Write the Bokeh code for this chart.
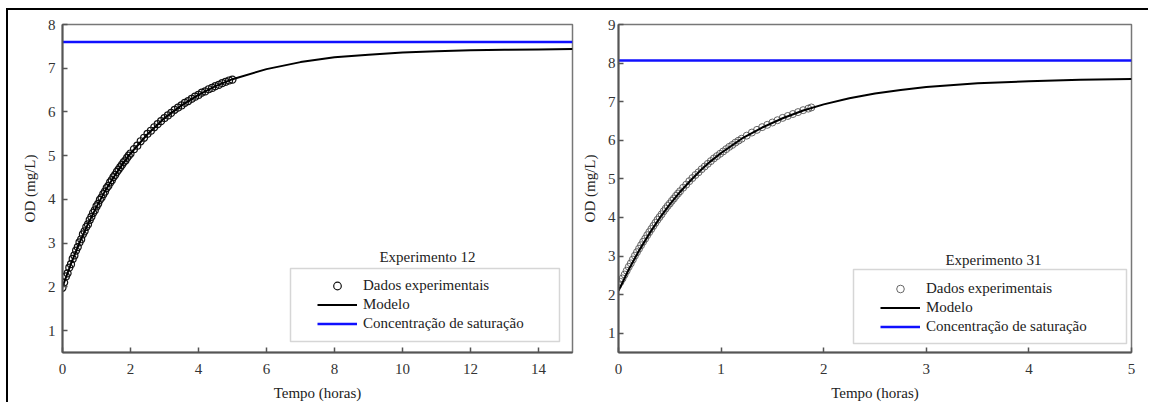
from bokeh.plotting import figure
from bokeh.layouts import row
from bokeh.models import (Range1d, FixedTicker, Legend, LegendItem,
                          BoxAnnotation, Label)
from bokeh.embed import file_html
from bokeh.resources import INLINE

FONT = "'Liberation Serif', serif"

# ---------------- Experimento 12 ----------------
exp12_title = "Experimento 12"
exp12_data_t = [0.00, 0.05, 0.10, 0.15, 0.20, 0.25, 0.30, 0.35, 0.40, 0.45,
                0.50, 0.55, 0.60, 0.65, 0.70, 0.75, 0.80, 0.85, 0.90, 0.95,
                1.00, 1.05, 1.10, 1.15, 1.20, 1.25, 1.30, 1.35, 1.40, 1.45,
                1.50, 1.55, 1.60, 1.65, 1.70, 1.75, 1.80, 1.85, 1.90, 1.95,
                2.00, 2.10, 2.20, 2.30, 2.40, 2.50, 2.60, 2.70, 2.80, 2.90,
                3.00, 3.10, 3.20, 3.30, 3.40, 3.50, 3.60, 3.70, 3.80, 3.90,
                4.00, 4.10, 4.20, 4.30, 4.40, 4.50, 4.60, 4.70, 4.80, 4.90, 5.00]
exp12_data_od = [1.98, 2.10, 2.24, 2.31, 2.44, 2.52, 2.64, 2.72, 2.83, 2.91,
                 3.02, 3.09, 3.20, 3.27, 3.37, 3.43, 3.53, 3.60, 3.69, 3.75,
                 3.84, 3.90, 3.99, 4.04, 4.12, 4.18, 4.26, 4.31, 4.39, 4.44,
                 4.51, 4.56, 4.63, 4.68, 4.74, 4.79, 4.85, 4.89, 4.95, 5.00,
                 5.05, 5.15, 5.23, 5.33, 5.41, 5.50, 5.57, 5.65, 5.72, 5.79,
                 5.86, 5.92, 5.98, 6.05, 6.10, 6.15, 6.21, 6.25, 6.30, 6.35,
                 6.39, 6.44, 6.47, 6.52, 6.55, 6.59, 6.62, 6.66, 6.69, 6.72, 6.74]
exp12_model_t = [0, 0.25, 0.5, 0.75, 1, 1.25, 1.5, 1.75, 2, 2.5, 3, 3.5, 4,
                 4.5, 5, 6, 7, 8, 9, 10, 11, 12, 13, 14, 15]
exp12_model_od = [2.00, 2.53, 3.01, 3.44, 3.83, 4.19, 4.50, 4.79, 5.05, 5.49,
                  5.86, 6.15, 6.39, 6.59, 6.75, 6.98, 7.14, 7.25, 7.31, 7.36,
                  7.39, 7.41, 7.42, 7.43, 7.44]
exp12_sat_t = [0, 15]
exp12_sat_od = [7.6, 7.6]
exp12_xticks = [0, 2, 4, 6, 8, 10, 12, 14]
exp12_yticks = [1, 2, 3, 4, 5, 6, 7, 8]

# ---------------- Experimento 31 ----------------
exp31_title = "Experimento 31"
exp31_data_t = [0.00, 0.02, 0.04, 0.06, 0.08, 0.10, 0.12, 0.14, 0.16, 0.18,
                0.20, 0.22, 0.24, 0.26, 0.28, 0.30, 0.32, 0.34, 0.36, 0.38,
                0.40, 0.42, 0.44, 0.46, 0.48, 0.50, 0.52, 0.54, 0.56, 0.58,
                0.60, 0.63, 0.66, 0.69, 0.72, 0.75, 0.78, 0.81, 0.84, 0.87,
                0.90, 0.93, 0.96, 0.99, 1.02, 1.05, 1.08, 1.11, 1.14, 1.17,
                1.20, 1.25, 1.30, 1.35, 1.40, 1.45, 1.50, 1.55, 1.60, 1.65,
                1.70, 1.75, 1.80, 1.85, 1.88]
exp31_data_od = [2.25, 2.33, 2.42, 2.52, 2.62, 2.72, 2.81, 2.91, 3.01, 3.10,
                 3.19, 3.28, 3.37, 3.45, 3.54, 3.62, 3.70, 3.78, 3.86, 3.94,
                 4.01, 4.08, 4.16, 4.23, 4.30, 4.36, 4.43, 4.49, 4.56, 4.62,
                 4.68, 4.77, 4.85, 4.94, 5.02, 5.10, 5.17, 5.25, 5.32, 5.39,
                 5.46, 5.53, 5.59, 5.65, 5.71, 5.77, 5.83, 5.88, 5.94, 5.99,
                 6.04, 6.12, 6.20, 6.27, 6.34, 6.40, 6.46, 6.52, 6.58, 6.63,
                 6.68, 6.73, 6.78, 6.82, 6.85]
exp31_model_t = [0, 0.1, 0.2, 0.3, 0.4, 0.5, 0.6, 0.7, 0.8, 0.9, 1.0, 1.2, 1.4,
                 1.6, 1.8, 2.0, 2.25, 2.5, 2.75, 3.0, 3.5, 4.0, 4.5, 5.0]
exp31_model_od = [2.10, 2.65, 3.14, 3.58, 3.98, 4.34, 4.66, 4.95, 5.22, 5.46,
                  5.67, 6.04, 6.33, 6.57, 6.77, 6.93, 7.09, 7.21, 7.30, 7.38,
                  7.48, 7.53, 7.57, 7.59]
exp31_sat_t = [0, 5]
exp31_sat_od = [8.07, 8.07]
exp31_xticks = [0, 1, 2, 3, 4, 5]
exp31_yticks = [1, 2, 3, 4, 5, 6, 7, 8, 9]

labels = ["Dados experimentais", "Modelo", "Concentração de saturação"]
x_label = "Tempo (horas)"
y_label = "OD (mg/L)"


def panel(width, left, right, xr, yr, xticks, yticks, data_t, data_od,
          model_t, model_od, sat_t, sat_od, title, circ_color, circ_lw,
          ylab_standoff, leg_loc, box, title_pos):
    p = figure(width=width, height=394, output_backend="svg",
               toolbar_location=None, x_range=Range1d(*xr),
               y_range=Range1d(*yr), min_border_left=left,
               min_border_right=right, min_border_top=14,
               min_border_bottom=52)
    p.xgrid.visible = False
    p.ygrid.visible = False
    p.background_fill_color = "white"
    p.border_fill_color = "white"
    p.outline_line_color = "#777777"
    p.outline_line_width = 1.5

    r_data = p.scatter(data_t, data_od, marker="circle", size=7,
                       fill_color=None, line_color=circ_color,
                       line_width=circ_lw)
    r_model = p.line(model_t, model_od, line_color="black", line_width=2)
    r_sat = p.line(sat_t, sat_od, line_color="#1010ff", line_width=2.5)

    p.xaxis.ticker = FixedTicker(ticks=xticks)
    p.yaxis.ticker = FixedTicker(ticks=yticks)
    p.xaxis.axis_label = x_label
    p.yaxis.axis_label = y_label
    for ax in (p.xaxis[0], p.yaxis[0]):
        ax.axis_line_color = "#555555"
        ax.axis_line_width = 2
        ax.major_tick_line_color = "#555555"
        ax.major_tick_line_width = 1.5
        ax.major_tick_in = 5
        ax.major_tick_out = 0
        ax.minor_tick_line_color = None
        ax.major_label_text_font = FONT
        ax.major_label_text_font_size = "15px"
        ax.major_label_text_color = "#333333"
        ax.axis_label_text_font = FONT
        ax.axis_label_text_font_size = "15px"
        ax.axis_label_text_font_style = "normal"
        ax.axis_label_text_color = "#222222"
    p.xaxis.major_label_standoff = 11
    p.xaxis.axis_label_standoff = 8
    p.yaxis.major_label_standoff = ylab_standoff
    p.yaxis.axis_label_standoff = 7

    b = BoxAnnotation(left=box[0], right=box[1], bottom=box[2], top=box[3],
                      left_units="screen", right_units="screen",
                      bottom_units="screen", top_units="screen",
                      fill_color="white", fill_alpha=1.0,
                      line_color="#777777", line_width=1.5, level="overlay")
    p.add_layout(b)

    legend = Legend(items=[LegendItem(label=labels[0], renderers=[r_data]),
                           LegendItem(label=labels[1], renderers=[r_model]),
                           LegendItem(label=labels[2], renderers=[r_sat])],
                    location=leg_loc, padding=0, margin=0, spacing=0,
                    glyph_width=40, glyph_height=19, label_height=19,
                    label_standoff=6, border_line_alpha=0,
                    background_fill_alpha=0,
                    label_text_font=FONT, label_text_font_size="15px",
                    label_text_color="#222222")
    p.add_layout(legend, "center")

    t = Label(x=title_pos[0], y=title_pos[1], x_units="screen",
              y_units="screen", text=title, text_font=FONT,
              text_font_size="15px", text_color="#222222",
              text_align="center", text_baseline="middle")
    p.add_layout(t)
    return p


p1 = panel(566, 54, 2, (0, 15), (0.5, 8), exp12_xticks, exp12_yticks,
           exp12_data_t, exp12_data_od, exp12_model_t, exp12_model_od,
           exp12_sat_t, exp12_sat_od, exp12_title, "#111111", 1.2,
           7, (255, 19), (228, 497, 11, 84), (365, 96))
p2 = panel(576, 44, 19, (0, 5), (0.5, 9), exp31_xticks, exp31_yticks,
           exp31_data_t, exp31_data_od, exp31_model_t, exp31_model_od,
           exp31_sat_t, exp31_sat_od, exp31_title, "#555555", 0.9,
           3, (262, 16), (235, 508, 9, 83), (375, 93))

layout = row(p1, p2, margin=(10, 0, 0, 8),
             styles={"box-shadow": "-2px -2px 0 0 #000000"})

open("out.html", "w").write(file_html(layout, INLINE))
